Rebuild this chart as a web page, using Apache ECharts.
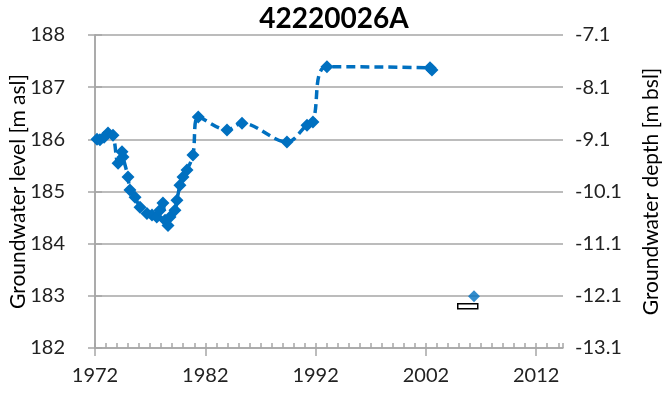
<!DOCTYPE html>
<html>
<head>
<meta charset="utf-8">
<script src="https://cdn.jsdelivr.net/npm/echarts@6/dist/echarts.min.js"></script>
<style>html,body{margin:0;padding:0;background:#fff;}#chart{width:662px;height:398px;}</style>
</head>
<body>
<div id="chart"></div>
<script>
const title = '42220026A';
const startYear = 1972;
const endYear = 2014.43;
const xTickYears = [1972, 1982, 1992, 2002, 2012];
const levelTicks = [182, 183, 184, 185, 186, 187, 188];
const depthLabels = ['-13.1', '-12.1', '-11.1', '-10.1', '-9.1', '-8.1', '-7.1'];

const years = [1972.18, 1972.45, 1972.82, 1973.18, 1973.63, 1974.09, 1974.45, 1974.54, 1974.99, 1975.17,
  1975.63, 1976.08, 1976.71, 1977.17, 1977.6, 1977.89, 1978.16, 1978.35, 1978.62, 1978.8,
  1979.25, 1979.43, 1979.7, 1979.98, 1980.34, 1980.88, 1981.36, 1983.97, 1985.33, 1989.4,
  1991.22, 1991.76, 1993.03, 2002.37, 2002.55];
const levels = [186.00, 185.99, 186.04, 186.12, 186.08, 185.54, 185.76, 185.66, 185.28, 185.03,
  184.89, 184.70, 184.58, 184.55, 184.51, 184.64, 184.78, 184.45, 184.35, 184.51,
  184.64, 184.83, 185.12, 185.28, 185.41, 185.70, 186.43, 186.18, 186.31, 185.95,
  186.27, 186.33, 187.39, 187.37, 187.33];

const extraYears = [2006.36];
const extraLevels = [182.99];

const blue = '#0070C0';
const axisGray = '#A6A6A6';
const font = 'Lato, "Open Sans", sans-serif';

const chart = echarts.init(document.getElementById('chart'));
const span = endYear - startYear;
chart.setOption({
  animation: false,
  title: {
    text: title, left: 329, textAlign: 'center', top: 0,
    textStyle: {fontFamily: font, fontSize: 28, fontWeight: 'bold', color: '#000'}
  },
  legend: {
    left: 457, top: 303, itemWidth: 20, itemHeight: 5, itemGap: 0, padding: 0,
    icon: 'rect', textStyle: {fontSize: 1},
    itemStyle: {color: '#fff', borderColor: '#000', borderWidth: 1.5},
    data: [{name: ' '}]
  },
  grid: {left: 95, right: 99, top: 35, bottom: 50, containLabel: false, outerBoundsMode: 'none'},
  xAxis: [{
    type: 'value', min: 0, max: span, interval: 10,
    axisLine: {show: true, lineStyle: {color: axisGray, width: 1.5}},
    axisTick: {show: true, length: 8, lineStyle: {color: axisGray, width: 1.5}},
    axisLabel: {
      showMaxLabel: false, margin: 18, fontFamily: font, fontSize: 20, color: '#222',
      formatter: v => { const y = Math.round(v + startYear); return xTickYears.indexOf(y) >= 0 ? String(y) : ''; }
    },
    splitLine: {show: false}
  }, {
    type: 'value', min: 0, max: span, interval: 1, position: 'bottom',
    axisLine: {show: false},
    axisTick: {show: true, inside: true, length: 5, lineStyle: {color: axisGray, width: 1.5}},
    axisLabel: {show: false},
    splitLine: {show: false}
  }],
  yAxis: [{
    type: 'value', min: levelTicks[0], max: levelTicks[levelTicks.length - 1], interval: 1,
    name: 'Groundwater level [m asl]', nameLocation: 'middle', nameGap: 66, nameRotate: 90,
    nameMoveOverlap: false,
    nameTextStyle: {fontFamily: font, fontSize: 21, color: '#000'},
    axisLine: {show: true, lineStyle: {color: axisGray, width: 1.5}},
    axisTick: {show: true, length: 7, lineStyle: {color: axisGray, width: 1.5}},
    axisLabel: {margin: 30, fontFamily: font, fontSize: 20, color: '#222'},
    splitLine: {show: true, lineStyle: {color: axisGray, width: 1.5}}
  }, {
    type: 'value', min: levelTicks[0], max: levelTicks[levelTicks.length - 1], interval: 1, position: 'right',
    name: 'Groundwater depth [m bsl]', nameLocation: 'middle', nameGap: 78, nameRotate: 90,
    nameMoveOverlap: false,
    nameTextStyle: {fontFamily: font, fontSize: 21, color: '#000'},
    axisLine: {show: true, lineStyle: {color: axisGray, width: 1.5}},
    axisTick: {show: true, length: 7, lineStyle: {color: axisGray, width: 1.5}},
    axisLabel: {margin: 12, fontFamily: font, fontSize: 20, color: '#222',
      formatter: v => depthLabels[levelTicks.indexOf(Math.round(v))] || ''},
    splitLine: {show: false}
  }],
  series: [{
    type: 'line', name: 'level', xAxisIndex: 0, yAxisIndex: 0,
    data: years.map((y, i) => [y - startYear, levels[i]]),
    smooth: 0.35,
    symbol: 'diamond', symbolSize: 13,
    itemStyle: {color: blue},
    lineStyle: {color: blue, width: 3.5, type: [9, 5]}
  }, {
    type: 'scatter', name: 'extra', xAxisIndex: 0, yAxisIndex: 0,
    data: extraYears.map((y, i) => [y - startYear, extraLevels[i]]),
    symbol: 'diamond', symbolSize: 12,
    itemStyle: {color: blue}
  }, {
    type: 'bar', name: ' ', data: [],
    itemStyle: {color: '#fff', borderColor: '#000', borderWidth: 1.5}
  }]
});
</script>
</body>
</html>
